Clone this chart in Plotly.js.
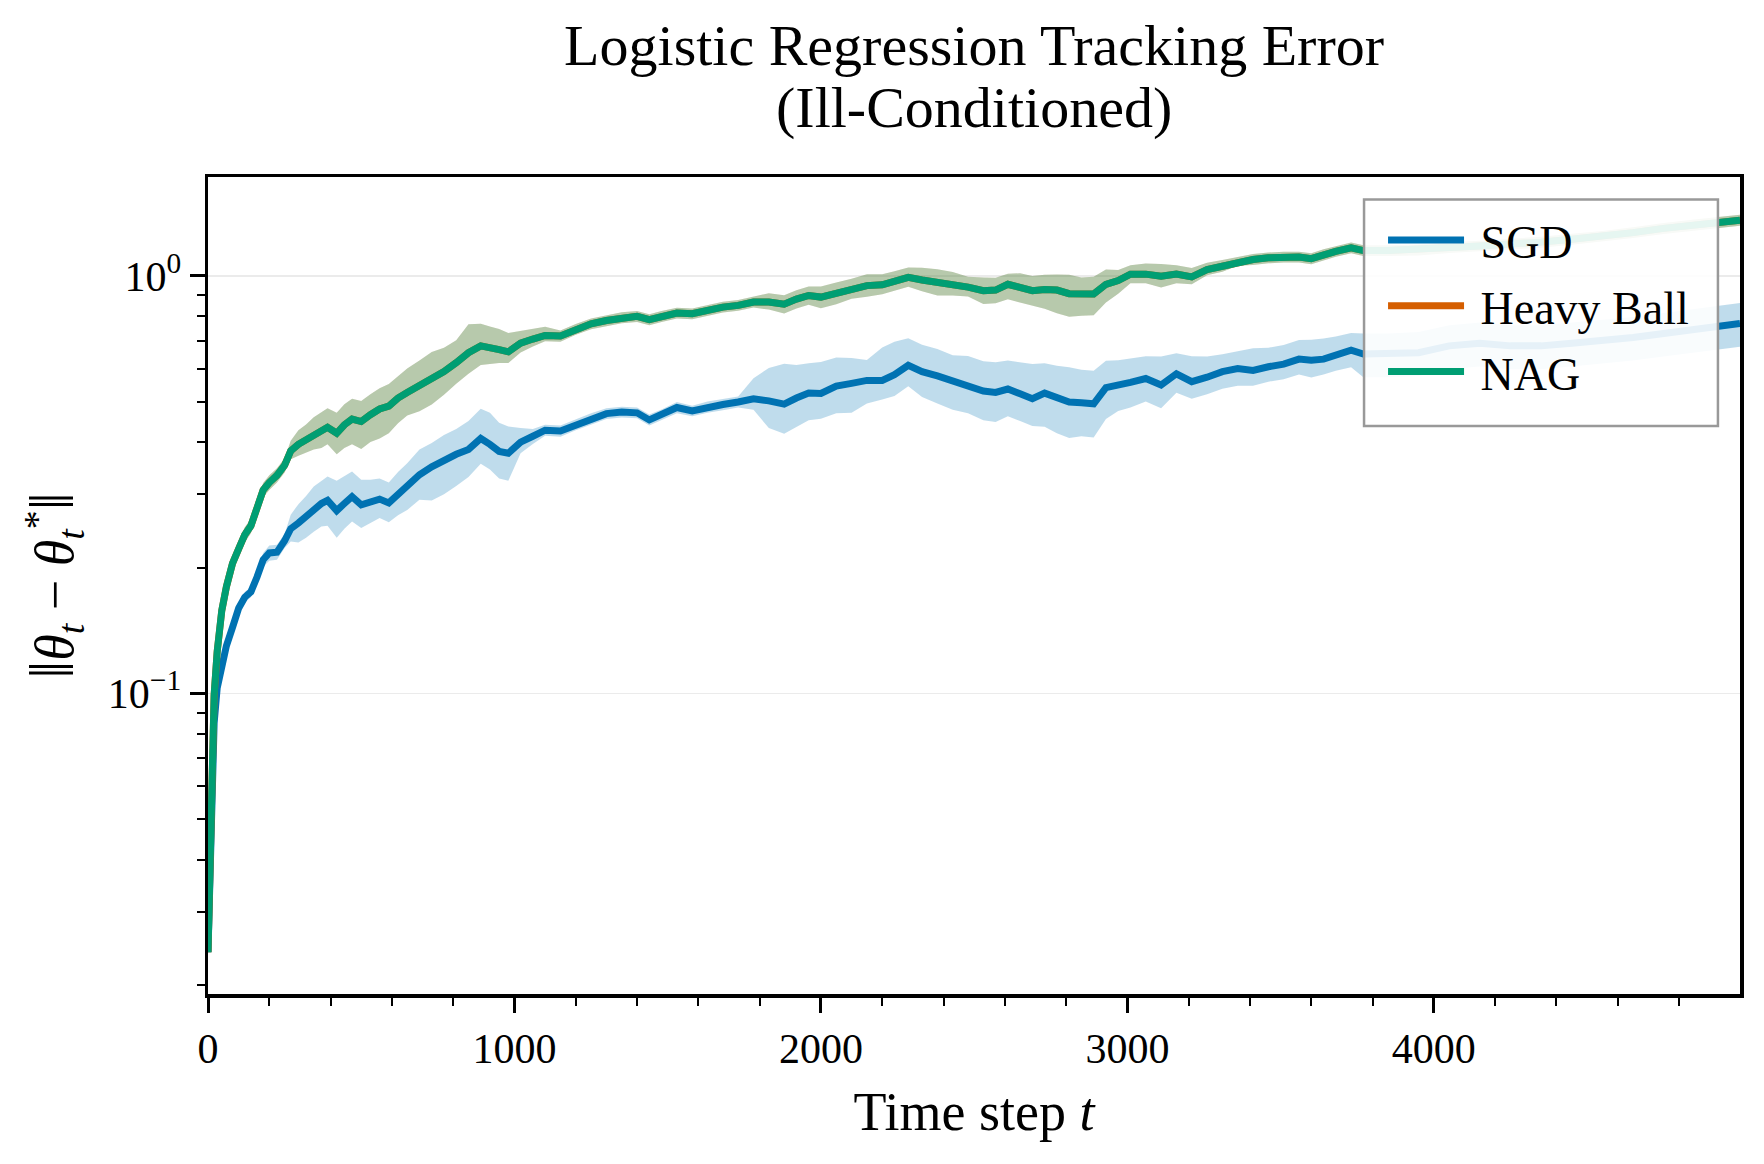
<!DOCTYPE html>
<html>
<head>
<meta charset="utf-8">
<script src="https://cdn.plot.ly/plotly-3.0.1.min.js"></script>
<style>html,body{margin:0;padding:0;background:#fff;}#chart{width:1764px;height:1164px;}</style>
</head>
<body>
<div id="chart"></div>
<script>
// ---- data ----
const timeSteps = [0,10,20,30,45,60,80,100,120,140,160,180,200,225,250,270,295,320,345,370,390,420,445,470,500,530,560,590,620,650,690,730,770,810,850,890,920,950,980,1020,1060,1100,1150,1200,1250,1300,1350,1400,1440,1480,1530,1580,1630,1680,1730,1780,1830,1880,1920,1960,2000,2050,2100,2150,2200,2240,2285,2330,2380,2430,2480,2530,2570,2610,2650,2690,2730,2770,2810,2850,2890,2930,2970,3010,3060,3110,3160,3210,3260,3310,3360,3410,3460,3510,3560,3600,3640,3680,3730,3770,3850,3950,4050,4150,4250,4350,4450,4550,4650,4750,4850,4950,4999];

const sgdMean = [0.024,0.058,0.085,0.103,0.118,0.130,0.144,0.160,0.170,0.175,0.190,0.209,0.217,0.218,0.232,0.248,0.256,0.265,0.277,0.285,0.290,0.274,0.285,0.296,0.283,0.288,0.292,0.286,0.300,0.312,0.334,0.349,0.362,0.374,0.384,0.408,0.395,0.380,0.376,0.400,0.413,0.427,0.425,0.440,0.455,0.468,0.472,0.470,0.452,0.465,0.484,0.475,0.485,0.492,0.499,0.508,0.502,0.493,0.510,0.524,0.523,0.545,0.553,0.562,0.562,0.580,0.611,0.590,0.576,0.562,0.545,0.530,0.526,0.536,0.522,0.508,0.524,0.512,0.499,0.497,0.494,0.540,0.546,0.556,0.568,0.548,0.583,0.558,0.572,0.590,0.600,0.594,0.606,0.615,0.632,0.628,0.632,0.645,0.664,0.650,0.650,0.655,0.680,0.690,0.680,0.680,0.690,0.700,0.712,0.728,0.745,0.760,0.769];
const sgdUpper = [0.0245,0.059,0.087,0.105,0.121,0.133,0.148,0.165,0.175,0.180,0.198,0.217,0.226,0.227,0.241,0.268,0.284,0.297,0.313,0.322,0.331,0.323,0.331,0.340,0.325,0.325,0.327,0.320,0.339,0.356,0.384,0.398,0.416,0.430,0.449,0.481,0.470,0.445,0.436,0.432,0.430,0.440,0.438,0.453,0.469,0.482,0.486,0.484,0.466,0.479,0.499,0.489,0.500,0.507,0.514,0.569,0.602,0.616,0.612,0.618,0.622,0.638,0.636,0.629,0.674,0.696,0.709,0.684,0.668,0.646,0.643,0.625,0.621,0.627,0.621,0.615,0.618,0.609,0.604,0.596,0.593,0.626,0.628,0.634,0.642,0.641,0.653,0.642,0.641,0.649,0.660,0.671,0.673,0.683,0.702,0.703,0.708,0.716,0.730,0.728,0.728,0.734,0.762,0.773,0.762,0.762,0.773,0.784,0.797,0.815,0.834,0.851,0.861];
const sgdLower = [0.0235,0.057,0.083,0.101,0.115,0.127,0.140,0.155,0.165,0.170,0.182,0.201,0.208,0.209,0.223,0.231,0.230,0.236,0.244,0.251,0.252,0.236,0.248,0.258,0.249,0.256,0.263,0.257,0.267,0.275,0.291,0.290,0.300,0.314,0.330,0.355,0.344,0.327,0.323,0.376,0.396,0.414,0.412,0.427,0.441,0.454,0.458,0.456,0.438,0.451,0.469,0.461,0.470,0.477,0.484,0.478,0.432,0.419,0.434,0.451,0.455,0.469,0.470,0.495,0.506,0.516,0.544,0.513,0.495,0.478,0.469,0.451,0.447,0.461,0.449,0.437,0.435,0.420,0.409,0.413,0.410,0.454,0.475,0.484,0.500,0.482,0.525,0.508,0.521,0.537,0.546,0.546,0.558,0.566,0.581,0.571,0.581,0.593,0.604,0.572,0.572,0.576,0.598,0.607,0.598,0.598,0.607,0.616,0.627,0.641,0.656,0.669,0.677];

const heavyBallMean = [0.024,0.060,0.099,0.126,0.158,0.180,0.205,0.222,0.240,0.252,0.280,0.307,0.320,0.333,0.352,0.381,0.395,0.405,0.417,0.425,0.434,0.420,0.440,0.454,0.448,0.465,0.480,0.488,0.510,0.526,0.545,0.566,0.590,0.620,0.655,0.680,0.676,0.666,0.658,0.690,0.706,0.720,0.718,0.745,0.768,0.782,0.794,0.800,0.786,0.800,0.815,0.812,0.828,0.842,0.850,0.866,0.866,0.856,0.880,0.898,0.890,0.910,0.928,0.948,0.952,0.968,0.992,0.978,0.966,0.955,0.940,0.922,0.925,0.955,0.940,0.922,0.928,0.925,0.907,0.902,0.905,0.955,0.975,1.010,1.010,0.998,1.010,0.995,1.035,1.055,1.080,1.095,1.105,1.110,1.110,1.100,1.125,1.145,1.168,1.150,1.150,1.155,1.170,1.180,1.190,1.205,1.225,1.245,1.270,1.300,1.325,1.350,1.360];
const heavyBallUpper = [0.0245,0.061,0.101,0.129,0.161,0.184,0.209,0.231,0.250,0.262,0.291,0.319,0.333,0.346,0.366,0.403,0.427,0.441,0.459,0.472,0.482,0.470,0.493,0.508,0.502,0.521,0.538,0.551,0.576,0.600,0.627,0.657,0.673,0.701,0.766,0.768,0.757,0.746,0.730,0.738,0.748,0.756,0.740,0.767,0.791,0.805,0.818,0.824,0.810,0.824,0.839,0.836,0.853,0.867,0.876,0.892,0.909,0.899,0.924,0.943,0.943,0.965,0.984,1.010,1.009,1.026,1.047,1.046,1.038,1.022,0.996,0.991,0.990,1.012,1.015,1.000,1.007,1.008,1.007,0.992,0.996,1.036,1.034,1.061,1.071,1.068,1.061,1.045,1.076,1.092,1.112,1.128,1.138,1.143,1.143,1.133,1.159,1.179,1.203,1.185,1.185,1.190,1.205,1.215,1.226,1.241,1.262,1.282,1.308,1.339,1.365,1.391,1.401];
const heavyBallLower = [0.0235,0.059,0.097,0.123,0.155,0.176,0.201,0.213,0.230,0.242,0.269,0.295,0.307,0.320,0.338,0.364,0.371,0.377,0.384,0.387,0.395,0.374,0.387,0.395,0.385,0.400,0.408,0.420,0.444,0.463,0.474,0.492,0.519,0.552,0.583,0.612,0.615,0.619,0.619,0.656,0.678,0.698,0.696,0.723,0.745,0.759,0.770,0.776,0.762,0.776,0.791,0.788,0.803,0.817,0.825,0.840,0.831,0.813,0.836,0.853,0.837,0.855,0.882,0.891,0.904,0.920,0.942,0.919,0.898,0.898,0.893,0.857,0.860,0.879,0.865,0.848,0.835,0.814,0.798,0.803,0.805,0.864,0.907,0.960,0.960,0.938,0.960,0.955,1.004,1.023,1.058,1.062,1.072,1.077,1.077,1.067,1.091,1.111,1.133,1.116,1.116,1.120,1.135,1.145,1.154,1.169,1.188,1.208,1.232,1.261,1.285,1.310,1.319];

const nagMean = [0.024,0.060,0.099,0.126,0.158,0.180,0.205,0.222,0.240,0.252,0.280,0.307,0.320,0.333,0.352,0.381,0.395,0.405,0.417,0.425,0.434,0.420,0.440,0.454,0.448,0.465,0.480,0.488,0.510,0.526,0.545,0.566,0.590,0.620,0.655,0.680,0.676,0.666,0.658,0.690,0.706,0.720,0.718,0.745,0.768,0.782,0.794,0.800,0.786,0.800,0.815,0.812,0.828,0.842,0.850,0.866,0.866,0.856,0.880,0.898,0.890,0.910,0.928,0.948,0.952,0.968,0.992,0.978,0.966,0.955,0.940,0.922,0.925,0.955,0.940,0.922,0.928,0.925,0.907,0.902,0.905,0.955,0.975,1.010,1.010,0.998,1.010,0.995,1.035,1.055,1.080,1.095,1.105,1.110,1.110,1.100,1.125,1.145,1.168,1.150,1.150,1.155,1.170,1.180,1.190,1.205,1.225,1.245,1.270,1.300,1.325,1.350,1.360];
const nagUpper = [0.0245,0.061,0.101,0.129,0.161,0.184,0.209,0.231,0.250,0.262,0.291,0.319,0.333,0.346,0.366,0.403,0.427,0.441,0.459,0.472,0.482,0.470,0.493,0.508,0.502,0.521,0.538,0.551,0.576,0.600,0.627,0.657,0.673,0.701,0.766,0.768,0.757,0.746,0.730,0.738,0.748,0.756,0.740,0.767,0.791,0.805,0.818,0.824,0.810,0.824,0.839,0.836,0.853,0.867,0.876,0.892,0.909,0.899,0.924,0.943,0.943,0.965,0.984,1.010,1.009,1.026,1.047,1.046,1.038,1.022,0.996,0.991,0.990,1.012,1.015,1.000,1.007,1.008,1.007,0.992,0.996,1.036,1.034,1.061,1.071,1.068,1.061,1.045,1.076,1.092,1.112,1.128,1.138,1.143,1.143,1.133,1.159,1.179,1.203,1.185,1.185,1.190,1.205,1.215,1.226,1.241,1.262,1.282,1.308,1.339,1.365,1.391,1.401];
const nagLower = [0.0235,0.059,0.097,0.123,0.155,0.176,0.201,0.213,0.230,0.242,0.269,0.295,0.307,0.320,0.338,0.364,0.371,0.377,0.384,0.387,0.395,0.374,0.387,0.395,0.385,0.400,0.408,0.420,0.444,0.463,0.474,0.492,0.519,0.552,0.583,0.612,0.615,0.619,0.619,0.656,0.678,0.698,0.696,0.723,0.745,0.759,0.770,0.776,0.762,0.776,0.791,0.788,0.803,0.817,0.825,0.840,0.831,0.813,0.836,0.853,0.837,0.855,0.882,0.891,0.904,0.920,0.942,0.919,0.898,0.898,0.893,0.857,0.860,0.879,0.865,0.848,0.835,0.814,0.798,0.803,0.805,0.864,0.907,0.960,0.960,0.938,0.960,0.955,1.004,1.023,1.058,1.062,1.072,1.077,1.077,1.067,1.091,1.111,1.133,1.116,1.116,1.120,1.135,1.145,1.154,1.169,1.188,1.208,1.232,1.261,1.285,1.310,1.319];

const seriesNames = ["SGD", "Heavy Ball", "NAG"];
const titleLine1 = "Logistic Regression Tracking Error";
const titleLine2 = "(Ill-Conditioned)";
const xTickValues = [0, 1000, 2000, 3000, 4000];
const xTickLabels = ["0", "1000", "2000", "3000", "4000"];
const yTickValues = [0.1, 1];
const yTickLabels = ["10<sup>\u22121</sup>", "10<sup>0</sup>"];
const yMinorTickValues = [0.02,0.03,0.04,0.05,0.06,0.07,0.08,0.09,0.2,0.3,0.4,0.5,0.6,0.7,0.8,0.9];

// ---- styling ----
const colors = {SGD: "#0072B2", "Heavy Ball": "#D55E00", NAG: "#009E73"};
const bandColors = {SGD: "rgba(0,114,178,0.25)", "Heavy Ball": "rgba(213,94,0,0.25)", NAG: "rgba(0,158,115,0.25)"};
const FONT = "'Liberation Serif', 'Times New Roman', Times, serif";

const seriesData = [
  {name: seriesNames[0], mean: sgdMean, lo: sgdLower, hi: sgdUpper},
  {name: seriesNames[1], mean: heavyBallMean, lo: heavyBallLower, hi: heavyBallUpper},
  {name: seriesNames[2], mean: nagMean, lo: nagLower, hi: nagUpper}
];

const traces = [];
seriesData.forEach(s => {
  traces.push({x: timeSteps, y: s.lo, type: "scatter", mode: "lines", line: {width: 0, color: bandColors[s.name]}, showlegend: false, legendgroup: s.name, hoverinfo: "skip"});
  traces.push({x: timeSteps, y: s.hi, type: "scatter", mode: "lines", line: {width: 0, color: bandColors[s.name]}, fill: "tonexty", fillcolor: bandColors[s.name], showlegend: false, legendgroup: s.name, hoverinfo: "skip"});
  traces.push({x: timeSteps, y: s.mean, type: "scatter", mode: "lines", name: "\u00A0" + s.name, legendgroup: s.name, line: {width: 7, color: colors[s.name]}});
});

const layout = {
  width: 1764, height: 1164,
  paper_bgcolor: "#ffffff", plot_bgcolor: "#ffffff",
  margin: {l: 208, r: 24, t: 177, b: 170},
  font: {family: FONT, color: "#000000", size: 42},
  title: {text: titleLine1, font: {family: FONT, size: 58, color: "#000"}, x: 0.5522, xanchor: "center", y: 0.962, yanchor: "middle"},
  annotations: [
    {text: titleLine2, xref: "paper", yref: "paper", x: 0.5, y: 1.0845, xanchor: "center", yanchor: "middle", showarrow: false, font: {family: FONT, size: 58, color: "#000"}}
  ],
  shapes: [
    {type: "rect", xref: "paper", yref: "paper", x0: 0.7546, x1: 0.9856, y0: 0.6952, y1: 0.9726, layer: "above",
     fillcolor: "rgba(255,255,255,0.9)", line: {color: "#999999", width: 2.5}}
  ],
  xaxis: {
    range: [0, 4999], type: "linear",
    tickvals: xTickValues, ticktext: xTickLabels,
    ticks: "outside", ticklen: 15, tickwidth: 3, tickcolor: "#000",
    minor: {dtick: 200, tick0: 0, ticks: "outside", ticklen: 8, tickwidth: 2, tickcolor: "#000", showgrid: false},
    showgrid: false, zeroline: false,
    showline: true, linewidth: 3.5, linecolor: "#000", mirror: true,
    tickfont: {family: FONT, size: 42},
    title: {text: "Time step <i>t</i>", font: {family: FONT, size: 54}, standoff: 22}
  },
  yaxis: {
    type: "log", range: [-1.72, 0.237],
    tickvals: yTickValues, ticktext: yTickLabels,
    ticks: "outside", ticklen: 15, tickwidth: 3, tickcolor: "#000",
    minor: {tickvals: yMinorTickValues, ticks: "outside", ticklen: 8, tickwidth: 2, tickcolor: "#000", showgrid: false},
    showgrid: true, gridcolor: "#ebebeb", gridwidth: 1.5, zeroline: false,
    showline: true, linewidth: 3.5, linecolor: "#000", mirror: true,
    tickfont: {family: FONT, size: 42},
    title: {text: "<span style=\"font-size:64px\">\u2016</span><i>\u03B8</i><sub><i>t</i></sub> \u2212 <i>\u03B8</i><sub><i>t</i></sub><sup>*</sup><span style=\"font-size:64px\">\u2016</span>", font: {family: FONT, size: 54}, standoff: 18}
  },
  legend: {
    x: 0.767, y: 0.9675, xanchor: "left", yanchor: "top",
    bgcolor: "rgba(0,0,0,0)", borderwidth: 0,
    font: {family: FONT, size: 46, color: "#000"},
    traceorder: "grouped", tracegroupgap: 3, itemwidth: 76
  },
  showlegend: true
};

Plotly.newPlot("chart", traces, layout, {staticPlot: true, displayModeBar: false});
</script>
</body>
</html>
